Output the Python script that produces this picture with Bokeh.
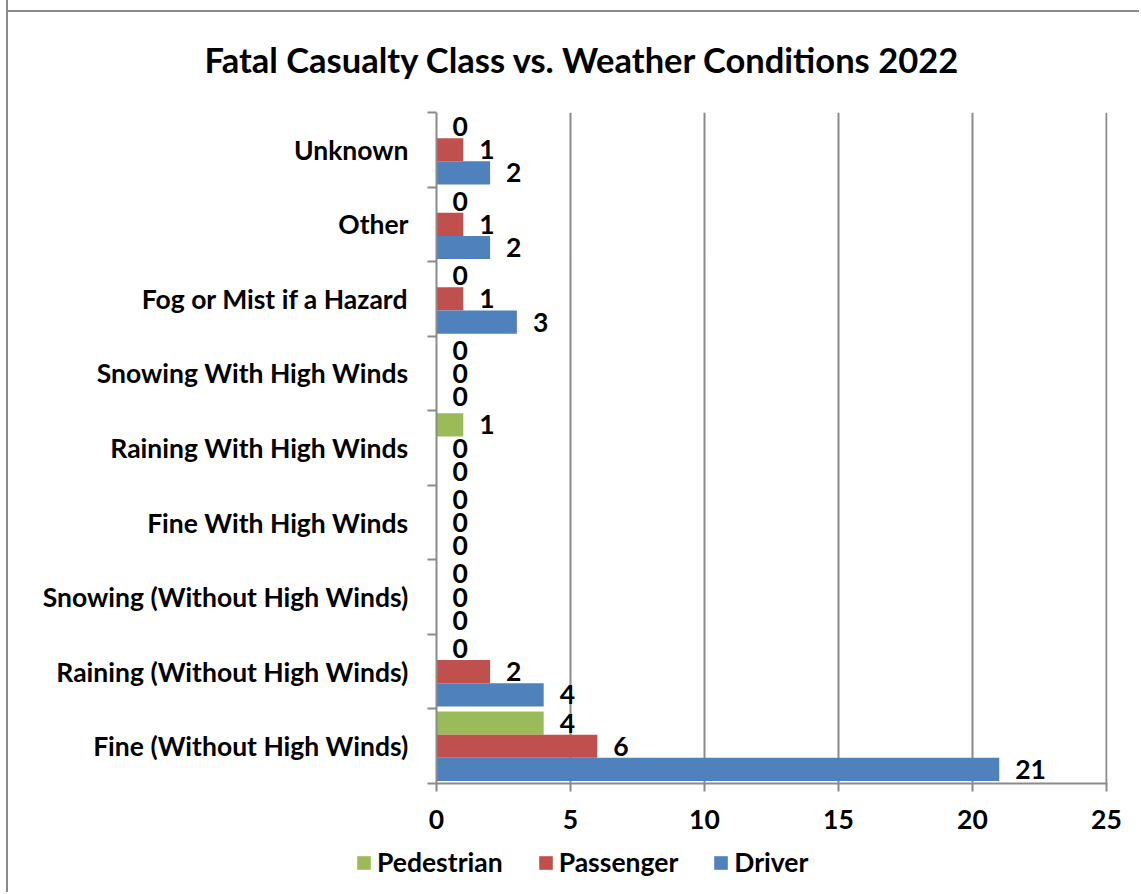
from bokeh.plotting import figure
from bokeh.layouts import column
from bokeh.models import FixedTicker, Legend, LegendItem, Range1d
from bokeh.core.properties import value
from bokeh.embed import file_html
from bokeh.resources import INLINE

# ---- data (bottom to top, as drawn) ----
categories = [
    "Fine (Without High Winds)",
    "Raining (Without High Winds)",
    "Snowing (Without High Winds)",
    "Fine With High Winds",
    "Raining With High Winds",
    "Snowing With High Winds",
    "Fog or Mist if a Hazard",
    "Other",
    "Unknown",
]
driver = [21, 4, 0, 0, 0, 0, 3, 2, 2]
passenger = [6, 2, 0, 0, 0, 0, 1, 1, 1]
pedestrian = [4, 0, 0, 0, 1, 0, 0, 0, 0]
x_ticks = [0, 5, 10, 15, 20, 25]
series_names = ["Pedestrian", "Passenger", "Driver"]
series_colors = ["#9BBB59", "#C0504D", "#4F81BD"]
title_text = "Fatal Casualty Class vs. Weather Conditions 2022"

FONT = "Lato"
GRAY = "#8a8a8a"
FS = "26.5px"
n = len(categories)
centers = [i + 0.5 for i in range(n)]
bar_h = 0.311
series_values = {"Pedestrian": pedestrian, "Passenger": passenger, "Driver": driver}
series_offsets = {"Pedestrian": bar_h, "Passenger": 0.0, "Driver": -bar_h}

p = figure(
    width=1131, height=847,
    x_range=Range1d(0, 25.04), y_range=Range1d(0, n),
    output_backend="svg", toolbar_location=None,
    min_border_left=428, min_border_right=32,
    min_border_top=112, min_border_bottom=64,
)
p.frame_align = False
p.outline_line_color = None
p.background_fill_color = "white"
p.border_fill_color = None   # let the chart-area frame line (page background) show

# title
p.title.text = title_text
p.title.align = "left"
p.title.offset = -232
p.title.standoff = 66
p.title.text_font = FONT
p.title.text_font_style = "bold"
p.title.text_font_size = "34.5px"
p.title.text_color = "black"

# grid
p.ygrid.visible = False
p.xgrid.ticker = FixedTicker(ticks=x_ticks)
p.xgrid.grid_line_color = GRAY
p.xgrid.grid_line_width = 2

# x axis
xa = p.xaxis[0]
xa.ticker = FixedTicker(ticks=x_ticks, minor_ticks=[])
xa.axis_line_color = GRAY
xa.axis_line_width = 2
xa.major_tick_line_color = GRAY
xa.major_tick_line_width = 2
xa.major_tick_out = 8
xa.major_tick_in = 0
xa.minor_tick_line_color = None
xa.major_label_standoff = 18
xa.major_label_text_font = FONT
xa.major_label_text_font_style = "bold"
xa.major_label_text_font_size = FS
xa.major_label_text_color = "black"

# y axis
ya = p.yaxis[0]
ya.ticker = FixedTicker(ticks=centers, minor_ticks=list(range(n + 1)))
ya.major_label_overrides = {c: name for c, name in zip(centers, categories)}
ya.axis_line_color = GRAY
ya.axis_line_width = 2
ya.major_tick_line_color = None
ya.major_tick_out = 0
ya.major_tick_in = 0
ya.minor_tick_line_color = GRAY
ya.minor_tick_line_width = 2
ya.minor_tick_out = 9
ya.minor_tick_in = 0
ya.major_label_standoff = 19
ya.major_label_text_font = FONT
ya.major_label_text_font_style = "bold"
ya.major_label_text_font_size = FS
ya.major_label_text_color = "black"

# bars + data labels
for name, color in zip(series_names, series_colors):
    vals = series_values[name]
    ys = [c + series_offsets[name] for c in centers]
    p.hbar(y=ys, left=0, right=vals, height=bar_h,
           fill_color=color, line_color=None)
    p.text(x=vals, y=ys, text=[str(v) for v in vals],
           x_offset=16, text_align="left", text_baseline="middle",
           text_font=value(FONT), text_font_style="bold",
           text_font_size=FS, text_color="black")

# legend strip (separate small figure so the legend is not clipped)
pl = figure(
    width=1131, height=45,
    x_range=Range1d(0, 1), y_range=Range1d(0, 1),
    output_backend="svg", toolbar_location=None,
    min_border=0,
)
pl.frame_align = False
pl.axis.visible = False
pl.grid.visible = False
pl.outline_line_color = None
pl.border_fill_color = "white"
pl.background_fill_color = "white"
items = []
for name, color in zip(series_names, series_colors):
    # proxy renderer kept outside the visible range; only its legend swatch shows
    r = pl.hbar(y=[-10], left=[0], right=[0.1], height=0.5,
                fill_color=color, line_color=None)
    items.append(LegendItem(label=name, renderers=[r]))
legend = Legend(
    items=items, orientation="horizontal", location=(347, 14),
    padding=0, margin=0, spacing=34, label_standoff=5,
    glyph_width=17, glyph_height=17,
    label_text_font=FONT, label_text_font_style="bold",
    label_text_font_size=FS, label_text_color="black",
    border_line_color=None, background_fill_alpha=0,
)
pl.add_layout(legend)

layout = column(p, pl, spacing=0)
layout.styles = {
    "margin-left": "6px",
    "border-left": "2px solid #8a8a8a",
    "background": "linear-gradient(#8a8a8a, #8a8a8a) 0px 10px / 100% 2px no-repeat, white",
}

open("out.html", "w").write(file_html(layout, INLINE))
